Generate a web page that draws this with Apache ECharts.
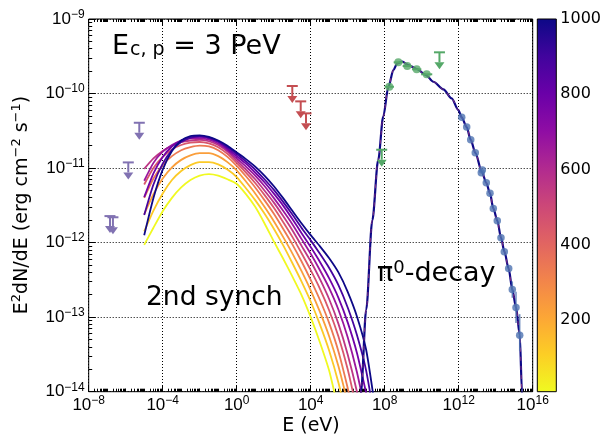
<!DOCTYPE html>
<html>
<head>
<meta charset="utf-8">
<script src="https://cdn.jsdelivr.net/npm/echarts@6/dist/echarts.min.js"></script>
<style>
  html, body { margin: 0; padding: 0; background: #fff; }
  #chart { width: 606px; height: 435px; }
</style>
</head>
<body>
<div id="chart"></div>
<script>
// All energies are log10(E / eV); all fluxes are log10(E^2 dN/dE / erg cm^-2 s^-1).

// Secondary synchrotron curves, one per colour-bar value, sampled every half decade from 1e-5 eV
const synchValues = [10, 120, 230, 340, 450, 560, 670, 780, 890, 1000];
const synchLogE = [-5, -4.5, -4, -3.5, -3, -2.5, -2, -1.5, -1, -0.5, 0, 0.5, 1, 1.5, 2, 2.5, 3, 3.5, 4, 4.5, 5, 5.5, 6, 6.5, 7, 7.5];
const synchLogF = [
  [-12.03, -11.80, -11.58, -11.40, -11.26, -11.16, -11.10, -11.08, -11.10, -11.15,
   -11.21, -11.35, -11.52, -11.74, -11.98, -12.21, -12.45, -12.70, -13.00, -13.34, -13.72, -14.25],
  [-11.85, -11.57, -11.34, -11.16, -11.04, -10.96, -10.92, -10.92, -10.95, -11.02,
   -11.12, -11.27, -11.43, -11.61, -11.81, -12.03, -12.27, -12.52, -12.79, -13.10, -13.45, -13.88, -14.40],
  [-11.62, -11.35, -11.14, -10.99, -10.89, -10.83, -10.80, -10.80, -10.84, -10.92,
   -11.03, -11.18, -11.34, -11.52, -11.71, -11.92, -12.14, -12.38, -12.64, -12.93, -13.26, -13.66, -14.15],
  [-11.40, -11.14, -10.96, -10.84, -10.76, -10.72, -10.70, -10.71, -10.76, -10.85,
   -10.97, -11.11, -11.26, -11.43, -11.61, -11.81, -12.02, -12.25, -12.50, -12.77, -13.08, -13.46, -13.95, -14.50],
  [-11.22, -11.00, -10.85, -10.75, -10.69, -10.66, -10.65, -10.67, -10.72, -10.81,
   -10.93, -11.06, -11.20, -11.36, -11.53, -11.72, -11.92, -12.14, -12.37, -12.62, -12.91, -13.26, -13.70, -14.25],
  [-11.01, -10.87, -10.77, -10.70, -10.65, -10.63, -10.62, -10.64, -10.69, -10.78,
   -10.90, -11.02, -11.15, -11.30, -11.46, -11.64, -11.83, -12.04, -12.25, -12.49, -12.76, -13.09, -13.50, -14.00, -14.60],
  [-11.17, -10.93, -10.78, -10.69, -10.63, -10.60, -10.60, -10.62, -10.67, -10.76,
   -10.87, -10.98, -11.10, -11.24, -11.40, -11.57, -11.75, -11.95, -12.15, -12.37, -12.61, -12.90, -13.27, -13.74, -14.32],
  [-11.39, -11.07, -10.85, -10.71, -10.63, -10.59, -10.58, -10.60, -10.65, -10.74,
   -10.84, -10.94, -11.06, -11.19, -11.34, -11.50, -11.68, -11.87, -12.06, -12.26, -12.48, -12.74, -13.07, -13.48, -14.02],
  [-11.63, -11.22, -10.94, -10.76, -10.65, -10.59, -10.57, -10.59, -10.64, -10.72,
   -10.81, -10.91, -11.02, -11.15, -11.29, -11.45, -11.62, -11.80, -11.97, -12.15, -12.34, -12.57, -12.87, -13.24, -13.72, -14.45],
  [-11.90, -11.40, -11.02, -10.77, -10.63, -10.57, -10.56, -10.58, -10.63, -10.70,
   -10.79, -10.88, -10.98, -11.10, -11.24, -11.40, -11.57, -11.74, -11.90, -12.05, -12.21, -12.40, -12.66, -12.99, -13.44, -14.25]
];

// pi0-decay gamma rays
const pi0LogE = [6.60, 6.72, 7.00, 7.33, 7.65, 7.92, 8.20, 8.47, 8.68, 8.95, 9.28, 9.73, 10.23, 10.63, 11.17, 11.62, 11.98,
                 12.16, 12.43, 12.65, 12.90, 13.25, 13.49, 13.69, 13.87, 14.09, 14.29, 14.47, 14.70, 14.90, 15.10, 15.30, 15.42, 15.46];
const pi0LogF = [-14.40, -14.00, -12.90, -11.70, -10.89, -10.31, -9.91, -9.685, -9.595, -9.573, -9.617, -9.671, -9.752, -9.842, -9.944, -10.064, -10.221,
                 -10.32, -10.45, -10.62, -10.795, -11.05, -11.197, -11.336, -11.54, -11.707, -11.936, -12.12, -12.35, -12.63, -12.87, -13.24, -14.00, -14.40];

// Radio upper limits
const radioLogE = [-6.85, -6.69, -5.86, -5.265];
const radioLogF = [-11.644, -11.66, -10.924, -10.392];
// X-ray upper limits
const xrayLogE = [3.005, 3.46, 3.746];
const xrayLogF = [-9.899, -10.105, -10.266];
// GeV points and upper limits
const gevLogE = [8.25, 8.735, 9.22, 9.73, 10.27];
const gevLogF = [-9.909, -9.581, -9.631, -9.675, -9.742];
const gevHalfBin = [0.25, 0.25, 0.25, 0.25, 0.3];
const gevULLogE = [7.838, 10.96];
const gevULLogF = [-10.754, -9.447];
// TeV points
const tevLogE = [12.162, 12.432, 12.649, 12.897, 13.222, 13.276, 13.492, 13.692, 13.870, 14.086, 14.286, 14.465, 14.703, 14.897, 15.097, 15.297];
const tevLogF = [-10.319, -10.450, -10.620, -10.795, -11.063, -11.027, -11.197, -11.336, -11.541, -11.707, -11.936, -12.123, -12.346, -12.628, -12.872, -13.242];
const tevErrLogE = [14.897, 15.097, 15.297];
const tevErrHi = [-12.52, -12.66, -12.96];
const tevErrLo = [-12.74, -13.08, -13.45];

// Axis ticks and colour bar
const xMajorTicks = [-8, -4, 0, 4, 8, 12, 16];
const yMajorTicks = [-14, -13, -12, -11, -10, -9];
const colorbarRange = [10, 1000];
const colorbarTicks = [200, 400, 600, 800, 1000];

// ---------------------------------------------------------------
const PLASMA = ['#0d0887', '#41049d', '#6a00a8', '#8f0da4', '#b12a90', '#cc4778',
                '#e16462', '#f2844b', '#fca636', '#fcce25', '#f0f921'];
function hexToRgb(h) { return [1, 3, 5].map(i => parseInt(h.substr(i, 2), 16)); }
function plasma(t) {
  t = Math.max(0, Math.min(1, t));
  const s = t * (PLASMA.length - 1), i = Math.min(PLASMA.length - 2, Math.floor(s)), f = s - i;
  const a = hexToRgb(PLASMA[i]), b = hexToRgb(PLASMA[i + 1]);
  return 'rgb(' + a.map((v, k) => Math.round(v + (b[k] - v) * f)).join(',') + ')';
}
// reversed map: low values yellow, high values dark blue
function barColor(v) { return plasma(1 - (v - colorbarRange[0]) / (colorbarRange[1] - colorbarRange[0])); }

const MINUS = '\u2212';
function powLabel(v) { return '{b|10}{s|' + (v < 0 ? MINUS : '') + Math.abs(v) + '}'; }
const tickRich = {
  b: { fontFamily: 'Liberation Sans', fontSize: 17, color: '#000', lineHeight: 21 },
  s: { fontFamily: 'Liberation Sans', fontSize: 12, color: '#000', lineHeight: 12, verticalAlign: 'top' }
};

const xMinor = [], yMinor = [];
for (let n = -8; n < 16; n++) {
  for (let k = 1; k <= 9; k++) {
    if (k === 1 && n % 4 === 0) continue;
    xMinor.push(n + Math.log10(k));
  }
}
for (let n = -14; n < -9; n++) for (let k = 2; k <= 9; k++) yMinor.push(n + Math.log10(k));

const GRID = { left: 88.7, top: 19, width: 444, height: 372.7 };

function axisBase(extra) {
  return Object.assign({
    type: 'value', gridIndex: 0,
    axisLine: { show: false, onZero: false },
    axisLabel: { show: false },
    splitLine: { show: false },
    axisTick: { show: false }
  }, extra);
}

const xAxes = [
  axisBase({
    min: xMajorTicks[0], max: xMajorTicks[xMajorTicks.length - 1], interval: 4, position: 'bottom',
    axisTick: { show: true, inside: true, length: 6, lineStyle: { color: '#000', width: 1 } },
    axisLabel: { show: true, margin: 3, formatter: powLabel, rich: tickRich },
    splitLine: { show: true, lineStyle: { color: '#000', width: 1, type: [1, 2] } }
  }),
  axisBase({ min: -8, max: 16, interval: 4, position: 'top',
    axisTick: { show: true, inside: true, length: 6, lineStyle: { color: '#000' } } }),
  axisBase({ min: -8, max: 16, position: 'bottom',
    axisTick: { show: true, inside: true, length: 3, customValues: xMinor, lineStyle: { color: '#000' } } }),
  axisBase({ min: -8, max: 16, position: 'top',
    axisTick: { show: true, inside: true, length: 3, customValues: xMinor, lineStyle: { color: '#000' } } }),
  { type: 'value', gridIndex: 1, min: 0, max: 1, show: false }
];
const yAxes = [
  axisBase({
    min: yMajorTicks[0], max: yMajorTicks[yMajorTicks.length - 1], interval: 1, position: 'left',
    axisTick: { show: true, inside: true, length: 7, lineStyle: { color: '#000' } },
    axisLabel: { show: true, margin: 4, formatter: powLabel, rich: tickRich },
    splitLine: { show: true, lineStyle: { color: '#000', width: 1, type: [1, 2] } }
  }),
  axisBase({ min: -14, max: -9, position: 'left',
    axisTick: { show: true, inside: true, length: 3.5, customValues: yMinor, lineStyle: { color: '#000' } } }),
  {
    type: 'value', gridIndex: 1, min: colorbarRange[0], max: colorbarRange[1], position: 'right',
    axisLine: { show: false }, splitLine: { show: false },
    axisTick: { show: true, length: 3, customValues: colorbarTicks, lineStyle: { color: '#000' } },
    axisLabel: { show: true, margin: 4, customValues: colorbarTicks, formatter: v => String(v),
      fontFamily: 'DejaVu Sans', fontSize: 16, color: '#000' }
  }
];

const series = [];

// synchrotron family
synchValues.forEach((v, i) => {
  series.push({
    type: 'line', xAxisIndex: 0, yAxisIndex: 0, showSymbol: false, silent: true,
    smooth: 0.2, clip: true,
    lineStyle: { color: barColor(v), width: 1.8 },
    data: synchLogF[i].map((f, j) => [synchLogE[j], f]),
    z: 2 + i * 0.01
  });
});

// pi0 curve, with the dashed overlay on top
const pi0Data = pi0LogE.map((e, j) => [e, pi0LogF[j]]);
series.push({
  type: 'line', xAxisIndex: 0, yAxisIndex: 0, showSymbol: false, silent: true, smooth: 0.3, smoothMonotone: 'x',
  lineStyle: { color: barColor(colorbarRange[1]), width: 2.2 }, data: pi0Data, z: 3
});
series.push({
  type: 'line', xAxisIndex: 0, yAxisIndex: 0, showSymbol: false, silent: true, smooth: 0.3, smoothMonotone: 'x',
  lineStyle: { color: '#cc4778', width: 1, type: [4, 5], opacity: 0.6 }, data: pi0Data, z: 3.1
});

function upperLimit(color) {
  return function (params, api) {
    const p = api.coord([api.value(0), api.value(1)]);
    const len = 17, cap = 5.5, hw = 5, hh = 7;
    return {
      type: 'group', children: [
        { type: 'line', shape: { x1: p[0] - cap, y1: p[1], x2: p[0] + cap, y2: p[1] }, style: { stroke: color, lineWidth: 2 } },
        { type: 'line', shape: { x1: p[0], y1: p[1], x2: p[0], y2: p[1] + len - hh }, style: { stroke: color, lineWidth: 2 } },
        { type: 'polygon', shape: { points: [[p[0] - hw, p[1] + len - hh], [p[0] + hw, p[1] + len - hh], [p[0], p[1] + len]] }, style: { fill: color } }
      ]
    };
  };
}
function ulSeries(xs, ys, color) {
  return {
    type: 'custom', xAxisIndex: 0, yAxisIndex: 0, silent: true, z: 5,
    renderItem: upperLimit(color), data: xs.map((e, j) => [e, ys[j]])
  };
}
const PURPLE = '#8172b2', RED = '#c44e52', GREEN = '#55a868', BLUE = '#4c72b0';

series.push(ulSeries(radioLogE, radioLogF, PURPLE));
series.push(ulSeries(xrayLogE, xrayLogF, RED));
series.push(ulSeries(gevULLogE, gevULLogF, GREEN));

// GeV bins (horizontal bars) and points
series.push({
  type: 'custom', xAxisIndex: 0, yAxisIndex: 0, silent: true, z: 5,
  data: gevLogE.map((e, j) => [e - gevHalfBin[j], e + gevHalfBin[j], gevLogF[j]]),
  renderItem: (params, api) => {
    const a = api.coord([api.value(0), api.value(2)]), b = api.coord([api.value(1), api.value(2)]);
    return { type: 'line', shape: { x1: a[0], y1: a[1], x2: b[0], y2: b[1] }, style: { stroke: GREEN, lineWidth: 2 } };
  }
});
series.push({
  type: 'scatter', xAxisIndex: 0, yAxisIndex: 0, silent: true, z: 6,
  symbol: 'circle', symbolSize: 8, itemStyle: { color: GREEN },
  data: gevLogE.map((e, j) => [e, gevLogF[j]])
});

// TeV error bars and points
series.push({
  type: 'custom', xAxisIndex: 0, yAxisIndex: 0, silent: true, z: 5,
  data: tevErrLogE.map((e, j) => [e, tevErrHi[j], tevErrLo[j]]),
  renderItem: (params, api) => {
    const a = api.coord([api.value(0), api.value(1)]), b = api.coord([api.value(0), api.value(2)]);
    return { type: 'line', shape: { x1: a[0], y1: a[1], x2: b[0], y2: b[1] }, style: { stroke: BLUE, lineWidth: 1.5, opacity: 0.8 } };
  }
});
series.push({
  type: 'scatter', xAxisIndex: 0, yAxisIndex: 0, silent: true, z: 6,
  symbol: 'circle', symbolSize: 7.5, itemStyle: { color: BLUE },
  data: tevLogE.map((e, j) => [e, tevLogF[j]])
});

// colour bar
series.push({
  type: 'custom', xAxisIndex: 4, yAxisIndex: 2, silent: true,
  data: [[0, colorbarRange[0], 1, colorbarRange[1]]],
  renderItem: (params, api) => {
    const a = api.coord([api.value(0), api.value(3)]), b = api.coord([api.value(2), api.value(1)]);
    return {
      type: 'rect', shape: { x: a[0], y: a[1], width: b[0] - a[0], height: b[1] - a[1] },
      style: { fill: new echarts.graphic.LinearGradient(0, 0, 0, 1,
        PLASMA.map((c, k) => ({ offset: k / (PLASMA.length - 1), color: c }))) }
    };
  }
});

const chart = echarts.init(document.getElementById('chart'), null, { renderer: 'canvas' });
chart.setOption({
  animation: false,
  backgroundColor: '#fff',
  grid: [
    Object.assign({ show: true, borderColor: '#000', borderWidth: 1, backgroundColor: 'transparent', containLabel: false }, GRID),
    { left: 537.3, top: 19, width: 19, height: 372.7, show: true, borderColor: '#000', borderWidth: 1, z: 10 }
  ],
  xAxis: xAxes,
  yAxis: yAxes,
  series: series,
  graphic: [
    { type: 'text', left: 112, top: 33, z: 20,
      style: { text: '{e|E}{s|c, p}{t| = 3 PeV}', rich: {
        e: { fontFamily: 'DejaVu Sans', fontSize: 27, color: '#000', lineHeight: 30, verticalAlign: 'bottom' },
        s: { fontFamily: 'DejaVu Sans', fontSize: 19, color: '#000', lineHeight: 22, verticalAlign: 'bottom', padding: [0, 0, 0, 1] },
        t: { fontFamily: 'DejaVu Sans', fontSize: 27, color: '#000', lineHeight: 30, verticalAlign: 'bottom' } } } },
    { type: 'text', left: 146, top: 285, z: 20,
      style: { text: '2nd synch', fontFamily: 'DejaVu Sans', fontSize: 26.5, fill: '#000' } },
    { type: 'text', left: 377, top: 259, z: 20,
      style: { text: '{p|\u03c0}{s|0}{t|-decay}', rich: {
        p: { fontFamily: 'DejaVu Sans', fontSize: 27, color: '#000', lineHeight: 30 },
        s: { fontFamily: 'DejaVu Sans', fontSize: 18, color: '#000', lineHeight: 30, verticalAlign: 'top' },
        t: { fontFamily: 'DejaVu Sans', fontSize: 27, color: '#000', lineHeight: 30 } } } },
    { type: 'text', x: 311, y: 426, z: 20,
      style: { text: 'E (eV)', fontFamily: 'DejaVu Sans', fontSize: 19, fill: '#000', align: 'center', verticalAlign: 'middle' } },
    { type: 'text', x: 22, y: 205, rotation: Math.PI / 2, z: 20,
      style: { text: '{a|E}{s|2}{a|dN/dE (erg cm}{s|' + MINUS + '2}{a| s}{s|' + MINUS + '1}{a|)}',
        align: 'center', verticalAlign: 'middle',
        rich: {
          a: { fontFamily: 'DejaVu Sans', fontSize: 19, color: '#000', lineHeight: 24 },
          s: { fontFamily: 'DejaVu Sans', fontSize: 13, color: '#000', lineHeight: 14, verticalAlign: 'top' } } } }
  ]
});
</script>
</body>
</html>
